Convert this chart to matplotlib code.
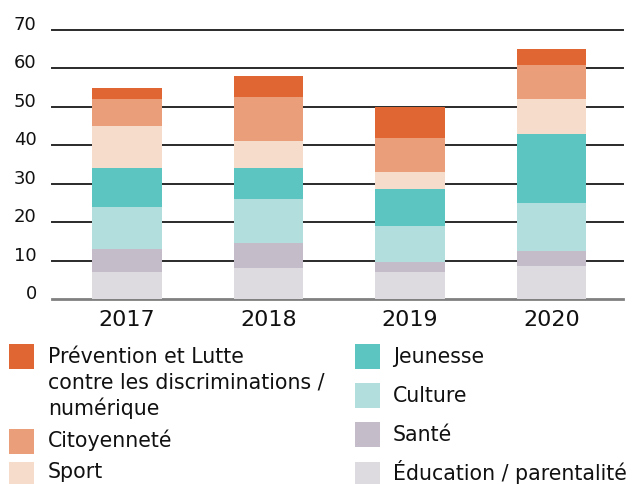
import matplotlib
matplotlib.use("Agg")
from matplotlib import pyplot as plt
from matplotlib.patches import Rectangle
import numpy as np

years = ['2017', '2018', '2019', '2020']

# stacked from bottom to top
education = [7, 8, 7, 8.5]
sante = [6, 6.5, 2.5, 4]
culture = [11, 11.5, 9.5, 12.5]
jeunesse = [10, 8, 9.5, 18]
sport = [11, 7, 4.5, 9]
citoyennete = [7, 11.5, 9, 9]
prevention = [3, 5.5, 8, 4]

series = [education, sante, culture, jeunesse, sport, citoyennete, prevention]
labels = ['Éducation / parentalité', 'Santé', 'Culture', 'Jeunesse', 'Sport',
          'Citoyenneté', 'Prévention et Lutte\ncontre les discriminations /\nnumérique']
colors = ['#DDDBE0', '#C4BCC9', '#B2DFDD', '#5CC5C2', '#F6DCCB', '#EA9E7A', '#E06733']

W, H = 638, 484
fig = plt.figure(figsize=(W/100, H/100), dpi=100)
ax = fig.add_axes([52/W, 1-299/H, (623-52)/W, (299-30)/H])

x = np.arange(len(years))
bottom = np.zeros(len(years))
for vals, col in zip(series, colors):
    ax.bar(x, vals, width=0.488, bottom=bottom, color=col, zorder=3)
    bottom += np.array(vals)

ax.set_xlim(-0.53, 3.505)
ax.set_ylim(0, 70)
ax.set_yticks(range(0, 71, 10))
for t in range(10, 71, 10):
    ax.axhline(t, color='#2a2a2a', lw=1.4, zorder=1, clip_on=False)
ax.axhline(0, color='#808080', lw=2, zorder=1, clip_on=False)

for s in ax.spines.values():
    s.set_visible(False)
ax.set_xticks(x)
ax.set_xticklabels(years, fontsize=16, color='#111111')
ax.tick_params(axis='x', length=0, pad=8)
ax.tick_params(axis='y', length=0, pad=11, labelsize=13, labelcolor='#111111')
for lab in ax.get_yticklabels():
    lab.set_va('baseline')

# legend drawn by hand, two columns
left = [6, 5, 4]
right = [3, 2, 1, 0]
sq_tops_l = [344, 429, 462]
sq_tops_r = [344, 383, 422, 462]
base_l = [363, 447, 478]
base_r = [363, 402, 441, 480]

def entry(i, sx, top, tx, base):
    fig.add_artist(Rectangle((sx/W, 1-(top+25)/H), 25/W, 25/H,
                             transform=fig.transFigure, color=colors[i], lw=0))
    for k, line in enumerate(labels[i].split('\n')):
        fig.text(tx/W, 1-(base+26*k)/H, line, fontsize=14.8, va='baseline',
                 ha='left', color='#111111')

for i, t, b in zip(left, sq_tops_l, base_l):
    entry(i, 9, t, 48, b)
for i, t, b in zip(right, sq_tops_r, base_r):
    entry(i, 355, t, 393, b)

fig.savefig('out.png', dpi=100)
